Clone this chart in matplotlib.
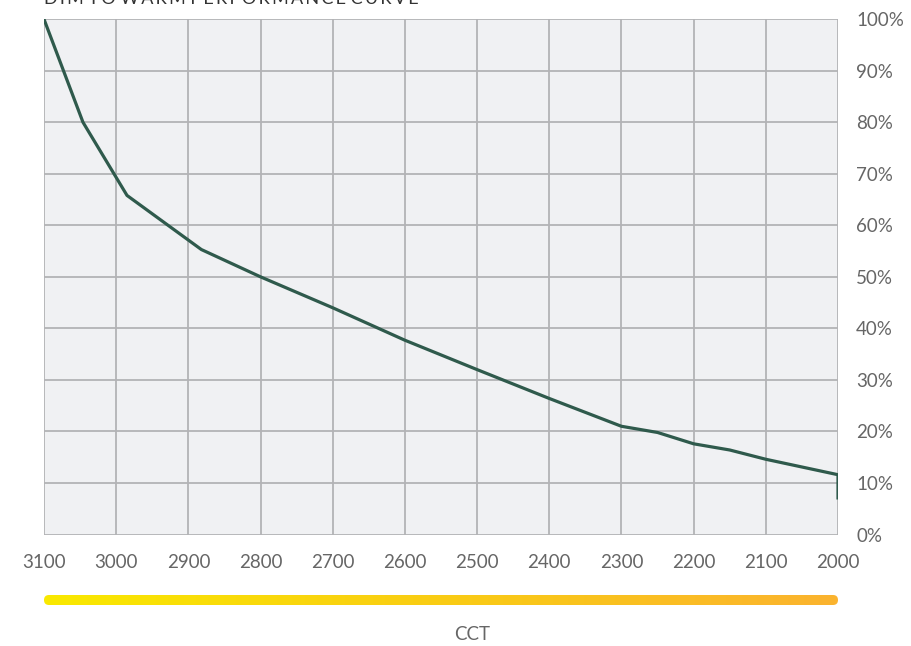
import numpy as np
import matplotlib.pyplot as plt
from matplotlib.patches import FancyBboxPatch
from matplotlib.colors import LinearSegmentedColormap

# dim-to-warm curve: CCT (K) vs light output (%)
cct = [3100, 3046, 2985, 2882, 2800, 2700, 2600, 2500, 2400, 2300, 2250, 2200, 2150, 2100, 2000, 2000]
pct = [100, 80, 65.8, 55.3, 50, 44, 37.7, 32, 26.4, 21, 19.8, 17.6, 16.4, 14.6, 11.6, 7.1]

x_ticks = [3100, 3000, 2900, 2800, 2700, 2600, 2500, 2400, 2300, 2200, 2100, 2000]
y_ticks = [0, 10, 20, 30, 40, 50, 60, 70, 80, 90, 100]
y_labels = [f"{v}%" for v in y_ticks]
bar_colors = ["#f9e900", "#f9cc14", "#fbb32f"]
title = "DIM TO WARM PERFORMANCE CURVE"

plt.rcParams['font.family'] = ['Lato', 'DejaVu Sans']

W, H = 912, 646
fig = plt.figure(figsize=(W / 100, H / 100), dpi=100)
ax = fig.add_axes([44 / W, 1 - 534.5 / H, (838 - 44) / W, (534.5 - 19.2) / H])
ax.set_facecolor("#f0f1f3")

ax.plot(cct, pct, color="#2f5a4c", lw=2.3, solid_joinstyle="round", zorder=3)

ax.set_xlim(3100, 2000)
ax.set_ylim(0, 100)
ax.set_xticks(x_ticks)
ax.set_xticklabels([str(v) for v in x_ticks])
ax.set_yticks(y_ticks)
ax.set_yticklabels(y_labels)
ax.yaxis.tick_right()
ax.tick_params(axis="x", length=0, pad=14, labelsize=13.5, labelcolor="#666666")
ax.tick_params(axis="y", length=0, pad=13, labelsize=13.5, labelcolor="#666666")
for lab in ax.get_yticklabels():
    lab.set_horizontalalignment("left")
ax.grid(True, color="#b3b3b6", lw=1.3)
ax.set_axisbelow(True)
for s in ax.spines.values():
    s.set_visible(False)

# title, letter-spaced and partly off the top edge like the source
spaced = " ".join("\u2009".join(w) for w in title.split())
fig.text(44 / W, 1 - 4 / H, spaced, fontsize=13, color="#333333", va="baseline", ha="left")

# gradient colour bar (axes in pixel units so the rounded ends stay round)
bar_w, bar_h = 794, 10
bax = fig.add_axes([44 / W, 1 - 605 / H, bar_w / W, bar_h / H])
bax.set_axis_off()
cmap = LinearSegmentedColormap.from_list("cct", bar_colors)
grad = np.linspace(0, 1, 256).reshape(1, -1)
im = bax.imshow(grad, aspect="auto", cmap=cmap, extent=[0, bar_w, 0, bar_h])
bax.set_xlim(0, bar_w)
bax.set_ylim(0, bar_h)
clip = FancyBboxPatch((0, 0), bar_w, bar_h, boxstyle=f"round,pad=0,rounding_size={bar_h / 2}",
                      transform=bax.transData, facecolor="none", edgecolor="none")
bax.add_patch(clip)
im.set_clip_path(clip)

fig.text(472 / W, 1 - 635 / H, "CCT", fontsize=13.5, color="#666666", ha="center", va="center")

fig.savefig("out.png", dpi=100)
